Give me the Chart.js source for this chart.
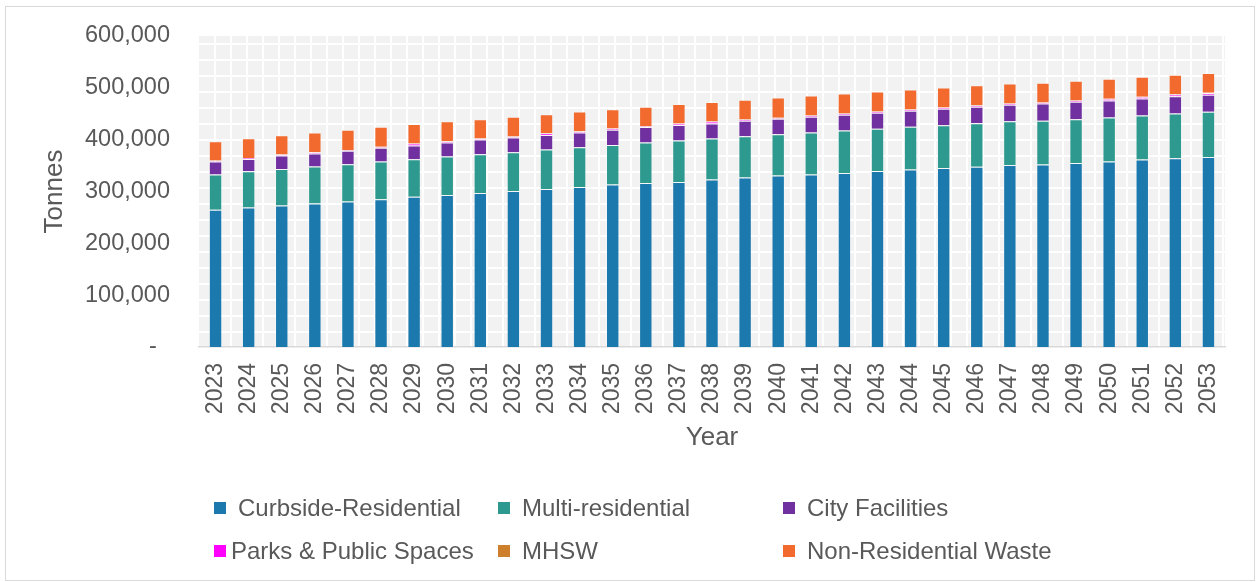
<!DOCTYPE html>
<html>
<head>
<meta charset="utf-8">
<script src="https://cdn.jsdelivr.net/npm/chart.js@4.4.0/dist/chart.umd.min.js"></script>
<style>
    body { margin: 0; background: #fff; font-family: "Liberation Sans", Arial, sans-serif; }
    #frame { position: absolute; left: 5px; top: 6px; width: 1248px; height: 573px; border: 1px solid #d9d9d9; }
    #chart-wrap { position: absolute; left: 0; top: 0; width: 1248px; height: 460px; }
    #legend { position: absolute; left: 0; top: 0; width: 1248px; height: 573px; pointer-events: none; }
    .legend-item { position: absolute; display: flex; align-items: center; font-size: 24px; color: #595959; white-space: nowrap; height: 30px; }
    .legend-box { width: 12px; height: 12px; margin-right: 12px; flex: none; }
</style>
</head>
<body>
<div id="frame">
    <div id="chart-wrap"><canvas id="waste-chart"></canvas></div>
    <div id="legend"></div>
</div>
<script>
const years = ["2023", "2024", "2025", "2026", "2027", "2028", "2029", "2030", "2031", "2032",
    "2033", "2034", "2035", "2036", "2037", "2038", "2039", "2040", "2041", "2042",
    "2043", "2044", "2045", "2046", "2047", "2048", "2049", "2050", "2051", "2052", "2053"];

// tonnes per year
const curbsideResidential = [265000, 269000, 272900, 276700, 280600, 285000, 289900, 293300, 297200, 301100,
    304900, 308800, 313400, 316500, 318500, 323100, 327000, 330800, 332800, 335900,
    339700, 342400, 345500, 347800, 351300, 352100, 355200, 357900, 361700, 364300, 366800];
const multiResidential = [67700, 70100, 70700, 71500, 72100, 72900, 72500, 74200, 74800, 74800,
    76100, 76700, 76500, 78100, 80000, 79200, 79800, 79800, 81200, 81900,
    81200, 82300, 82500, 84100, 84400, 84300, 84400, 85000, 85000, 86400, 86900];
const cityFacilities = [25100, 23800, 25900, 25100, 25700, 26300, 26500, 27200, 28400, 28400,
    28200, 28400, 29000, 29600, 29600, 29000, 29600, 29600, 30100, 30100,
    30900, 30900, 31500, 31500, 31500, 33600, 33400, 32900, 32900, 32900, 32900];
const parksPublicSpaces = [1200, 1200, 1200, 1800, 1200, 1200, 3200, 1600, 1200, 1200,
    2600, 1800, 2000, 1200, 2600, 3200, 2000, 1200, 2000, 2000,
    2000, 2000, 2000, 2200, 2000, 1200, 2000, 2400, 2400, 3200, 3200];
const mhsw = [700, 700, 700, 700, 700, 700, 700, 700, 700, 700,
    700, 700, 700, 700, 700, 700, 700, 700, 700, 700,
    700, 700, 700, 700, 700, 700, 700, 700, 700, 700, 700];
const nonResidentialWaste = [37300, 38100, 37300, 38100, 38600, 38600, 37300, 38300, 37300, 37900,
    36700, 38100, 37300, 37300, 37300, 37300, 37900, 39400, 38600, 38600,
    38600, 38600, 38600, 38500, 38600, 37900, 37900, 38600, 38600, 37900, 38100];

const yTicks = [0, 100000, 200000, 300000, 400000, 500000, 600000];

const series = [
    { label: "Curbside-Residential", data: curbsideResidential, color: "#1b79ae" },
    { label: "Multi-residential", data: multiResidential, color: "#2e9a8f" },
    { label: "City Facilities", data: cityFacilities, color: "#7030a0" },
    { label: "Parks & Public Spaces", data: parksPublicSpaces, color: "#ff00ff" },
    { label: "MHSW", data: mhsw, color: "#cd7f2c" },
    { label: "Non-Residential Waste", data: nonResidentialWaste, color: "#f26a2d" }
];

// legend slots: [left, top] of each item inside the frame
const legendSlots = [[208, 486], [492, 486], [777, 486], [208, 529], [492, 529], [777, 529]];

// grey plot background with the white grid pattern
const plotPattern = {
    id: "plotPattern",
    beforeDraw: (chart) => {
        const { ctx, chartArea: a } = chart;
        ctx.save();
        ctx.fillStyle = "#f2f2f2";
        ctx.fillRect(a.left, a.top, a.right - a.left, a.bottom - a.top);
        ctx.strokeStyle = "#ffffff";
        ctx.lineWidth = 2;
        ctx.beginPath();
        for (let x = a.left + 16; x < a.right; x += 16) {
            ctx.moveTo(x, a.top);
            ctx.lineTo(x, a.bottom);
        }
        for (let y = a.top + 8; y < a.bottom; y += 16) {
            ctx.moveTo(a.left, y);
            ctx.lineTo(a.right, y);
        }
        ctx.stroke();
        ctx.restore();
    }
};

const buildLegend = () => {
    const legend = document.getElementById("legend");
    series.forEach((s, i) => {
        const item = document.createElement("div");
        item.className = "legend-item";
        item.style.left = legendSlots[i][0] + "px";
        item.style.top = legendSlots[i][1] + "px";
        const box = document.createElement("span");
        box.className = "legend-box";
        box.style.background = s.color;
        if (i === 3) box.style.marginRight = "5px";
        const text = document.createElement("span");
        text.textContent = s.label;
        item.appendChild(box);
        item.appendChild(text);
        legend.appendChild(item);
    });
}

const drawChart = () => {
    const ctx = document.getElementById("waste-chart").getContext("2d");

    new Chart(ctx, {
        type: "bar",
        data: {
            labels: years,
            datasets: series.map(s => ({
                label: s.label,
                data: s.data,
                backgroundColor: s.color,
                borderColor: "rgba(255, 255, 255, 0.25)",
                borderWidth: 1,
                categoryPercentage: 1,
                barPercentage: 0.405
            }))
        },
        options: {
            responsive: true,
            maintainAspectRatio: false,
            animation: false,
            layout: {
                padding: { top: 29, left: 33, right: 29, bottom: 14 }
            },
            plugins: {
                legend: { display: false },
                tooltip: { enabled: false }
            },
            scales: {
                x: {
                    stacked: true,
                    grid: { display: false, drawTicks: false },
                    border: { display: true, color: "#d9d9d9", width: 1.5 },
                    ticks: {
                        color: "#595959",
                        font: { family: "Liberation Sans", size: 23 },
                        minRotation: 90,
                        maxRotation: 90,
                        padding: 16,
                        autoSkip: false
                    },
                    title: {
                        display: true,
                        text: "Year",
                        color: "#595959",
                        font: { family: "Liberation Sans", size: 26 },
                        padding: { top: 6, bottom: 0 }
                    },
                    afterFit: (axis) => {
                        axis.height = 106;
                        axis.paddingLeft = 0;
                        axis.paddingRight = 0;
                    }
                },
                y: {
                    stacked: true,
                    min: 0,
                    max: 600000,
                    grid: { display: false, drawTicks: false },
                    border: { display: false },
                    afterBuildTicks: (axis) => {
                        axis.ticks = yTicks.map(v => ({ value: v }));
                    },
                    ticks: {
                        color: "#595959",
                        font: { family: "Liberation Sans", size: 23.5 },
                        padding: 29,
                        callback: (v) => v === 0 ? "-  " : v.toLocaleString("en-US")
                    },
                    title: {
                        display: true,
                        text: "Tonnes",
                        color: "#595959",
                        font: { family: "Liberation Sans", size: 26 },
                        padding: { top: 0, bottom: 17 }
                    },
                    afterFit: (axis) => {
                        axis.width = 160;
                        axis.paddingTop = 14;
                        axis.paddingBottom = 14;
                    }
                }
            }
        },
        plugins: [plotPattern]
    });
}

window.onload = () => {
    buildLegend();
    drawChart();
};
</script>
</body>
</html>
